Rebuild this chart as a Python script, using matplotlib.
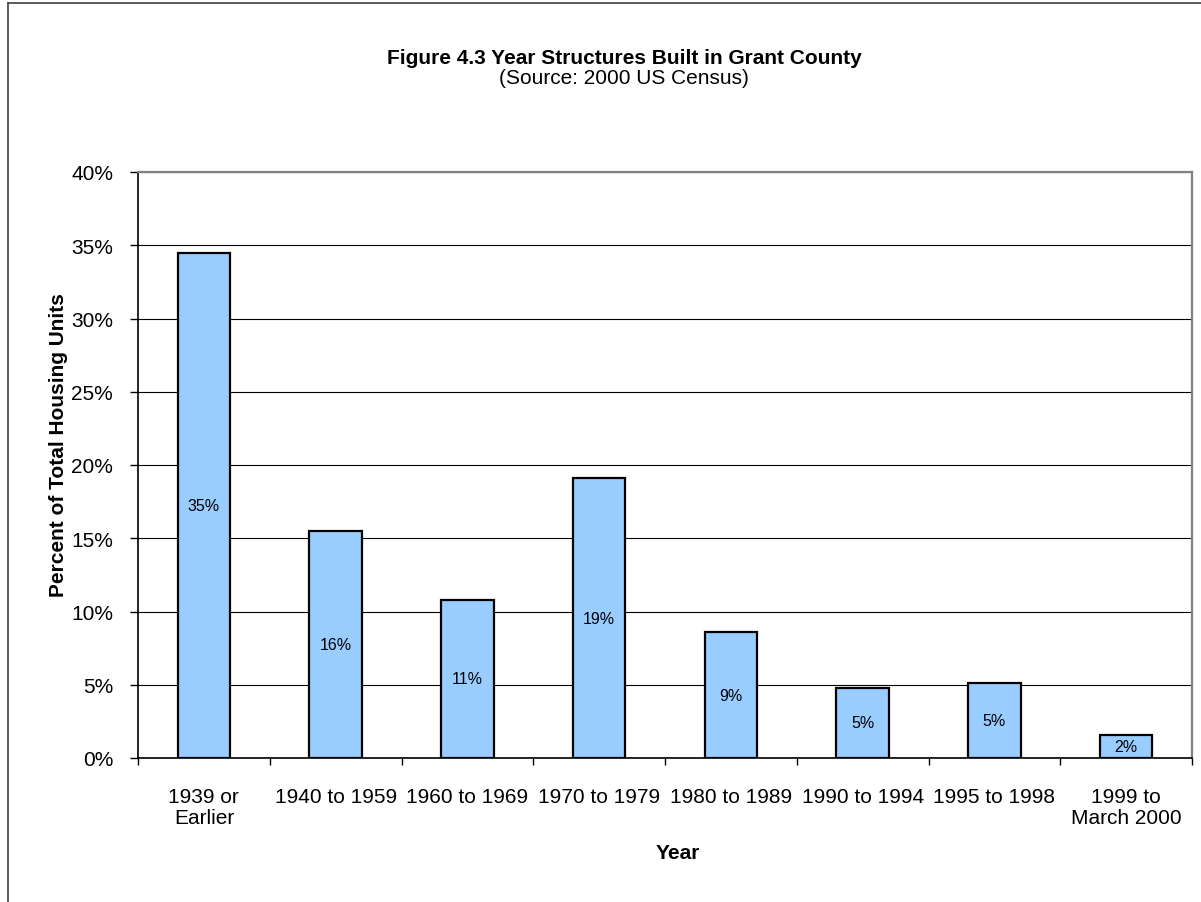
import numpy as np
import matplotlib
matplotlib.use("Agg")
import matplotlib.pyplot as plt
from matplotlib.lines import Line2D

plt.rcParams["font.family"] = ["Liberation Sans", "DejaVu Sans"]

# data
categories = ["1939 or\nEarlier", "1940 to 1959", "1960 to 1969", "1970 to 1979",
              "1980 to 1989", "1990 to 1994", "1995 to 1998", "1999 to\nMarch 2000"]
share = [0.345, 0.155, 0.108, 0.191, 0.086, 0.048, 0.051, 0.016]
share_labels = ["35%", "16%", "11%", "19%", "9%", "5%", "5%", "2%"]
y_ticks = [0.0, 0.05, 0.10, 0.15, 0.20, 0.25, 0.30, 0.35, 0.40]

W, H = 1201, 903
fig = plt.figure(figsize=(W / 100, H / 100), dpi=100)
fig.patch.set_facecolor("white")

# chart area border (left and top edges show, rest runs off the image)
fig.add_artist(Line2D([8 / W, 8 / W], [0, 1 - 4 / H], color="#404040", lw=1.2,
                      transform=fig.transFigure))
fig.add_artist(Line2D([8 / W, 1], [1 - 4 / H, 1 - 4 / H], color="#404040", lw=1.2,
                      transform=fig.transFigure))

ax = fig.add_axes([138 / W, (H - 759) / H, (1192 - 138) / W, (759 - 173) / H])

x = np.arange(len(categories))
bars = ax.bar(x, share, width=0.4, color="#99CCFF", edgecolor="black", linewidth=1.6, zorder=3)
ax.bar_label(bars, labels=share_labels, label_type="center", fontsize=11.5, zorder=4)

ax.set_xlim(-0.5, len(categories) - 0.5)
ax.set_ylim(0, 0.40)
ax.set_yticks(y_ticks)
ax.set_yticklabels([f"{int(round(v * 100))}%" for v in y_ticks], fontsize=15)
ax.yaxis.grid(True, color="black", linewidth=0.8, zorder=0)

ax.set_xticks(x)
ax.set_xticklabels(categories, fontsize=15, linespacing=1.15)
ax.set_xticks(np.arange(-0.5, len(categories)), minor=True)
ax.tick_params(axis="x", which="major", length=0, pad=21)
ax.tick_params(axis="x", which="minor", length=5, width=1, direction="out")
ax.tick_params(axis="y", length=6, width=1, direction="out", pad=12)

for side in ["left", "bottom"]:
    ax.spines[side].set_color("black")
    ax.spines[side].set_linewidth(1.2)
for side in ["top", "right"]:
    ax.spines[side].set_color("#808080")
    ax.spines[side].set_linewidth(1.6)

fig.text(624 / W, 1 - 58 / H, "Figure 4.3 Year Structures Built in Grant County",
         ha="center", va="center", fontsize=15, fontweight="bold")
fig.text(624 / W, 1 - 78 / H, "(Source: 2000 US Census)",
         ha="center", va="center", fontsize=15)
fig.text(59 / W, 1 - 445 / H, "Percent of Total Housing Units", rotation=90,
         ha="center", va="center", fontsize=15, fontweight="bold")
fig.text(678 / W, 1 - 854 / H, "Year", ha="center", va="center", fontsize=15,
         fontweight="bold")

fig.savefig("out.png", dpi=100)
